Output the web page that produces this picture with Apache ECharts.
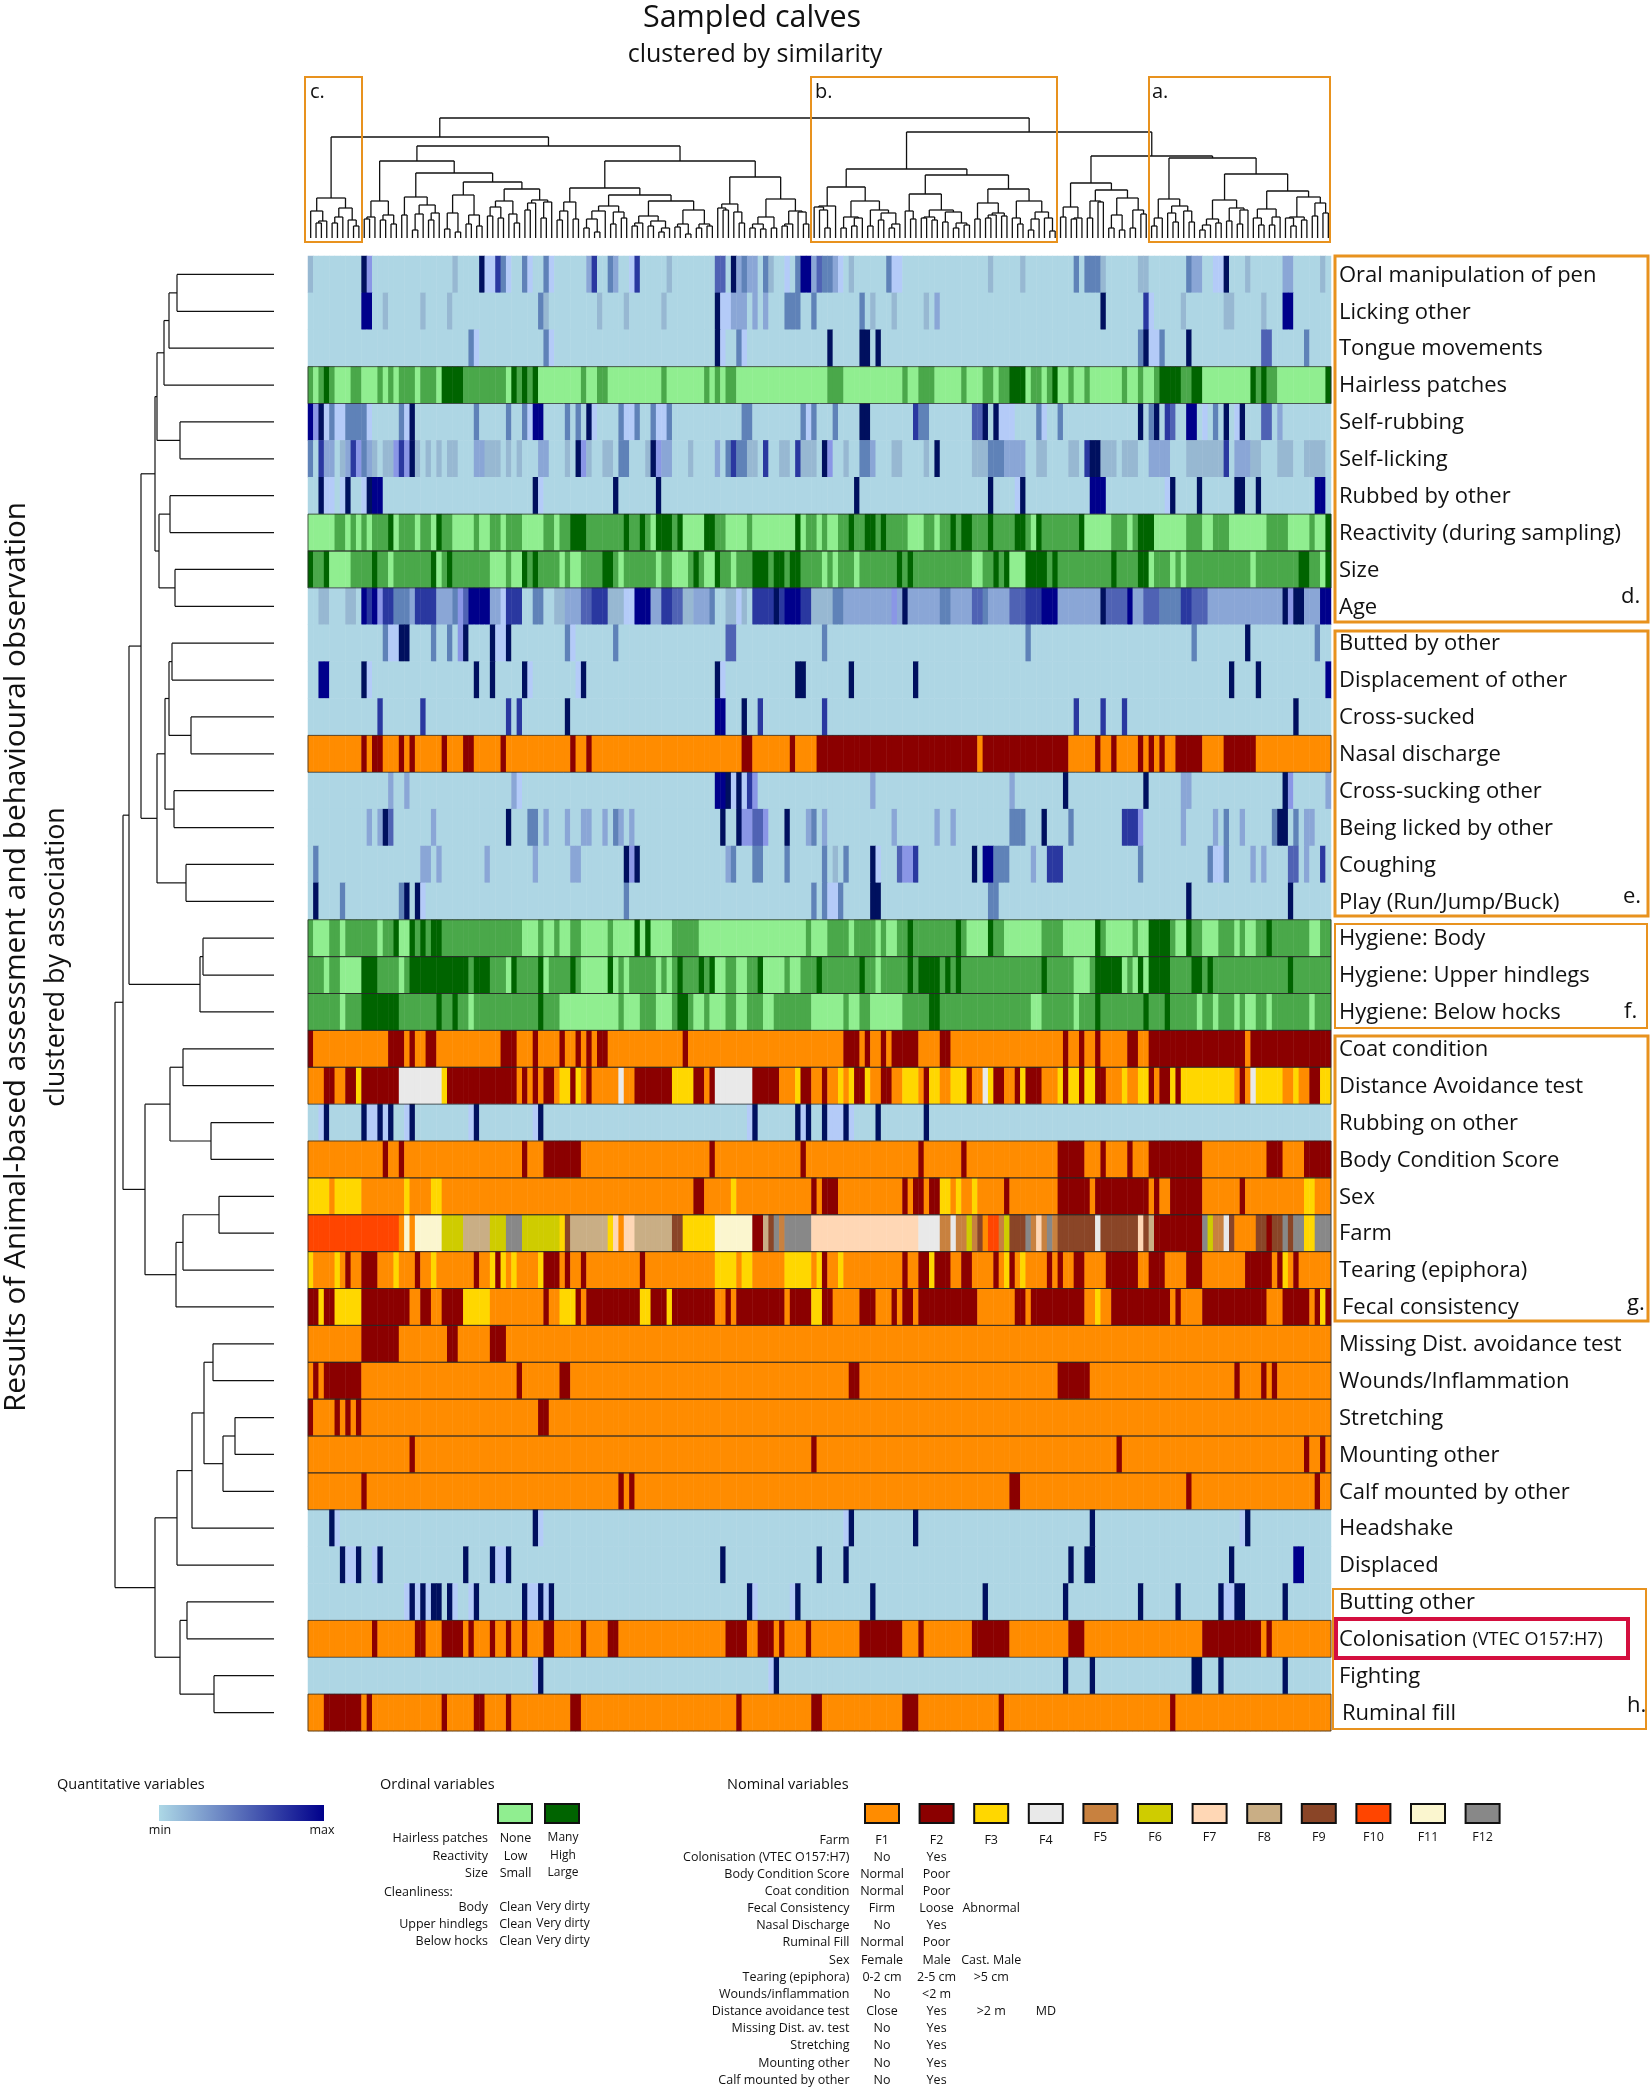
<!DOCTYPE html>
<html><head><meta charset="utf-8">
<style>html,body{margin:0;padding:0;background:#fff}#c{width:1650px;height:2087px}</style>
<script src="https://cdn.jsdelivr.net/npm/echarts@6/dist/echarts.min.js"></script>
</head><body><div id="c"></div>
<script>
const FONT='"Open Sans"';
const columnCount=191;
const rowLabels=["Oral manipulation of pen","Licking other","Tongue movements","Hairless patches","Self-rubbing","Self-licking","Rubbed by other","Reactivity (during sampling)","Size","Age","Butted by other","Displacement of other","Cross-sucked","Nasal discharge","Cross-sucking other","Being licked by other","Coughing","Play (Run/Jump/Buck)","Hygiene: Body","Hygiene: Upper hindlegs","Hygiene: Below hocks","Coat condition","Distance Avoidance test","Rubbing on other","Body Condition Score","Sex","Farm","Tearing (epiphora)","Fecal consistency","Missing Dist. avoidance test","Wounds/Inflammation","Stretching","Mounting other","Calf mounted by other","Headshake","Displaced","Butting other","Colonisation (VTEC O157:H7)","Fighting","Ruminal fill"];
const rowKinds=["Q","Q","Q","O","Q","Q","Q","O","O","Q","Q","Q","Q","N","Q","Q","Q","Q","O","O","O","N","N","Q","N","N","N","N","N","N","N","N","N","N","Q","Q","Q","N","Q","N"];
// base level of each ordinal row (0 light, 1 mid, 2 dark); other rows use their first colour
const ordinalBase={3:0,7:0,8:1,18:0,19:1,20:1};

const quantBase="#aed6e4";
const quantColors=["#b4cbf8","#97b8d2","#8aa6d6","#5f82b8","#4f62b4","#2a38a0","#00105f","#00008b","#8a96e6"];
const ordinalColors=["#90ee90","#4aa84a","#006400"];
const nominalColors=["#ff8c00","#8b0000","#ffd700","#e9e9e9","#c8813f","#cfcc00","#ffd7b5","#c9ae85","#8a4527","#ff4500","#fbf6cf","#888888"];

// each row: [first column, number of columns, level]
const oralManipulation=[[0,1,1],[10,1,6],[11,1,8],[27,1,1],[32,1,6],[33,2,0],[35,1,5],[36,1,3],[37,1,0],[40,1,3],[41,1,0],[44,1,3],[45,1,0],[52,1,2],[53,1,5],[56,1,3],[57,1,2],[60,1,0],[61,1,5],[67,1,1],[76,2,4],[79,1,6],[80,1,2],[81,1,3],[82,2,2],[85,1,3],[86,1,1],[89,1,0],[91,1,3],[92,2,7],[94,1,2],[95,1,4],[96,1,3],[97,1,3],[98,1,2],[99,1,0],[101,1,1],[108,1,3],[109,2,0],[127,1,1],[133,1,1],[143,1,3],[145,3,3],[148,1,1],[155,2,1],[164,1,3],[165,2,2],[169,2,0],[171,1,6],[175,1,1],[182,2,2],[189,1,1]];
const lickingOther=[[10,2,7],[14,1,1],[21,1,1],[26,1,1],[43,1,3],[44,1,1],[54,1,1],[59,1,1],[66,1,1],[76,1,6],[77,2,0],[79,3,2],[83,1,2],[85,1,2],[89,3,3],[94,1,3],[103,1,3],[105,1,1],[109,1,1],[115,1,1],[117,1,2],[148,1,6],[156,1,5],[157,1,0],[163,1,1],[171,2,1],[178,1,1],[182,2,7]];
const tongueMovements=[[30,1,3],[31,1,0],[44,1,3],[45,1,0],[76,1,6],[77,1,0],[80,1,3],[81,1,0],[97,1,6],[103,2,6],[106,1,6],[155,1,3],[156,1,6],[157,2,0],[159,1,3],[164,1,6],[178,2,4],[186,1,3]];
const hairlessPatches=[[0,1,1],[2,1,1],[3,1,2],[4,1,1],[8,2,1],[13,1,1],[15,1,1],[17,3,1],[21,3,1],[25,4,2],[29,8,1],[38,1,2],[39,1,1],[40,1,2],[41,1,1],[42,1,2],[51,1,1],[54,2,1],[66,1,1],[74,1,1],[76,1,1],[78,2,1],[97,2,1],[99,1,1],[111,1,1],[114,3,1],[122,1,1],[126,2,1],[129,2,1],[131,3,2],[135,2,1],[138,1,1],[139,1,2],[142,1,1],[145,1,1],[152,1,1],[155,1,1],[158,1,1],[159,4,2],[163,2,1],[165,2,2],[176,1,2],[177,1,1],[178,1,2],[179,2,1],[190,1,2]];
const selfRubbing=[[0,1,7],[1,1,8],[2,1,6],[3,1,0],[4,1,3],[5,2,0],[7,4,3],[11,1,0],[17,1,3],[18,1,0],[19,1,6],[31,1,3],[37,1,3],[40,1,3],[41,1,0],[42,2,7],[48,1,3],[50,1,3],[52,1,6],[53,1,0],[58,1,3],[59,2,0],[61,1,3],[64,1,3],[65,2,0],[67,1,3],[81,2,3],[92,1,3],[93,1,0],[94,1,3],[98,1,3],[103,2,6],[113,1,5],[114,2,3],[124,2,4],[126,1,6],[128,1,6],[129,3,0],[136,1,3],[137,1,0],[140,1,3],[155,1,6],[157,1,3],[158,1,6],[160,1,5],[161,1,4],[164,2,7],[167,1,0],[169,1,3],[171,1,6],[173,1,0],[174,1,6],[178,2,4],[181,1,2]];
const selfLicking=[[0,1,3],[2,1,5],[3,2,2],[6,1,1],[7,1,2],[8,1,5],[9,1,8],[10,1,3],[11,1,2],[12,1,1],[14,2,1],[16,1,8],[17,1,5],[18,1,8],[19,1,6],[20,1,1],[22,1,1],[24,1,1],[26,2,1],[31,2,2],[33,3,1],[37,1,1],[39,1,1],[43,2,2],[48,1,1],[50,1,6],[51,1,8],[52,1,1],[55,2,1],[58,2,3],[63,1,1],[64,1,6],[65,1,8],[66,2,2],[71,1,1],[76,1,2],[78,1,3],[79,1,5],[80,2,3],[82,2,1],[85,1,5],[88,2,1],[91,1,5],[92,3,1],[96,1,6],[97,1,8],[100,1,1],[103,2,3],[105,1,2],[109,2,1],[115,1,1],[117,1,6],[124,3,1],[127,3,3],[130,4,2],[136,2,1],[142,2,1],[145,1,5],[146,2,6],[148,3,1],[152,3,1],[157,4,2],[164,3,1],[167,4,1],[171,1,5],[173,3,2],[176,2,1],[181,3,1],[186,4,1]];
const rubbedByOther=[[2,1,6],[3,2,0],[6,1,0],[7,1,6],[10,1,0],[11,1,6],[12,2,7],[42,1,6],[43,1,0],[57,1,6],[65,1,6],[102,1,6],[127,1,6],[132,1,0],[133,1,6],[146,3,7],[160,1,0],[161,1,6],[166,1,6],[173,2,6],[177,1,6],[188,2,7]];
const reactivity=[[5,2,1],[8,1,1],[10,1,1],[12,3,1],[15,1,2],[17,3,1],[21,2,1],[24,1,2],[25,2,1],[31,1,1],[34,2,1],[37,3,1],[44,2,1],[47,2,1],[49,3,2],[52,7,1],[59,1,2],[60,2,1],[62,1,2],[63,1,1],[65,3,2],[68,1,1],[69,1,2],[74,2,2],[76,2,1],[82,1,1],[91,1,2],[93,2,1],[96,1,1],[99,2,1],[101,1,2],[102,2,1],[104,2,2],[106,1,1],[107,1,2],[108,4,1],[115,2,1],[118,2,1],[120,1,2],[121,1,1],[122,2,2],[124,3,1],[127,1,2],[128,4,1],[132,2,2],[134,1,1],[136,1,2],[137,7,1],[144,1,2],[150,3,1],[154,1,1],[155,3,2],[164,3,1],[169,3,1],[179,4,1],[187,1,1],[190,1,2]];
const size=[[0,1,2],[3,1,2],[4,4,0],[12,1,2],[15,1,0],[23,1,2],[24,1,0],[26,1,2],[34,3,0],[38,2,0],[40,1,2],[42,1,2],[47,1,0],[49,2,0],[55,2,2],[58,1,0],[65,1,0],[68,3,0],[72,1,2],[74,2,0],[76,1,2],[79,1,0],[83,3,2],[87,2,2],[90,2,2],[96,1,0],[98,1,0],[102,1,0],[110,1,2],[112,1,2],[124,2,0],[128,1,2],[130,1,2],[131,3,0],[134,4,2],[139,1,2],[150,1,2],[155,2,2],[157,1,0],[161,1,0],[163,1,0],[176,1,0],[185,2,2],[189,1,0],[190,1,2]];
const age=[[2,2,1],[7,2,1],[10,1,7],[11,1,5],[12,1,7],[13,1,8],[14,2,5],[16,3,3],[19,1,2],[20,4,5],[24,3,2],[27,1,3],[28,1,8],[29,1,4],[30,4,7],[34,2,2],[36,1,0],[37,2,5],[39,1,5],[42,2,3],[46,2,1],[48,3,2],[51,2,4],[53,3,5],[56,3,1],[59,2,0],[61,3,7],[64,2,2],[66,2,5],[68,2,4],[70,2,1],[72,3,2],[75,1,3],[78,2,1],[80,1,0],[81,1,1],[83,4,5],[87,1,6],[88,1,5],[89,3,7],[92,2,5],[94,2,1],[96,2,1],[98,2,3],[100,9,2],[109,1,8],[110,1,2],[111,1,6],[112,6,2],[118,2,3],[120,4,2],[124,2,4],[126,1,3],[127,4,2],[131,3,4],[134,3,5],[137,3,7],[140,8,2],[148,1,6],[149,4,4],[153,1,7],[154,2,2],[156,3,4],[159,4,3],[163,2,5],[165,3,4],[168,14,2],[182,1,6],[183,1,8],[184,2,6],[186,3,2],[189,2,7]];
const buttedByOther=[[14,1,3],[15,2,0],[17,2,6],[23,1,3],[26,1,3],[28,1,8],[29,1,6],[34,1,6],[35,2,0],[37,1,6],[48,1,3],[49,1,0],[57,1,3],[78,2,4],[96,1,3],[134,1,3],[165,1,3],[175,1,6],[188,1,3]];
const displacementOfOther=[[2,2,7],[10,1,6],[11,1,0],[31,1,6],[34,1,6],[40,1,6],[41,1,0],[50,1,0],[51,1,6],[76,1,6],[77,1,0],[91,2,6],[101,1,6],[113,1,6],[172,1,6],[177,1,6],[190,1,7]];
const crossSucked=[[13,1,5],[21,1,5],[37,1,5],[39,1,5],[48,1,6],[76,2,7],[81,1,6],[84,1,5],[96,1,5],[143,1,5],[148,1,5],[152,1,5],[184,1,6]];
const nasalDischarge=[[10,1,1],[12,2,1],[17,1,1],[19,1,1],[25,1,1],[29,2,1],[36,1,1],[49,1,1],[52,1,1],[81,2,1],[90,1,1],[95,30,1],[126,16,1],[147,1,1],[150,1,1],[155,1,1],[157,1,1],[159,1,1],[162,5,1],[171,6,1]];
const crossSuckingOther=[[15,1,2],[18,1,2],[38,1,2],[39,1,0],[76,2,7],[78,1,6],[79,1,0],[80,1,6],[81,1,0],[82,1,5],[83,1,8],[105,1,2],[131,1,2],[141,1,6],[156,1,6],[163,2,2],[182,1,6],[183,1,8],[190,1,2]];
const beingLicked=[[11,1,2],[13,1,2],[14,1,6],[15,1,4],[23,1,2],[37,1,6],[41,2,3],[44,1,2],[48,1,2],[51,2,2],[55,1,2],[57,1,3],[58,1,2],[60,1,2],[77,1,6],[80,1,6],[81,2,8],[83,2,4],[85,1,8],[89,1,6],[93,1,2],[94,1,3],[96,1,2],[109,1,2],[117,1,2],[120,1,2],[131,3,3],[137,1,6],[142,1,3],[152,1,5],[153,2,5],[155,1,8],[163,1,2],[169,1,2],[171,1,3],[174,1,2],[180,1,3],[181,2,6],[184,1,3],[186,2,2]];
const coughing=[[1,1,3],[21,2,2],[24,1,2],[33,1,2],[42,1,2],[49,2,2],[59,1,6],[60,1,8],[61,1,6],[78,1,2],[79,1,3],[83,2,3],[89,1,3],[96,1,3],[98,1,1],[100,1,3],[105,1,6],[106,1,0],[110,1,4],[111,2,8],[113,1,5],[124,1,6],[126,2,7],[128,3,3],[135,1,2],[138,3,5],[155,1,3],[168,1,3],[169,2,0],[171,1,3],[176,1,2],[178,1,2],[183,2,4],[186,1,2],[189,1,5]];
const play=[[1,1,6],[6,1,3],[17,1,3],[18,1,6],[20,1,6],[21,1,0],[59,1,3],[94,1,3],[96,1,3],[97,2,0],[99,1,3],[105,2,6],[127,2,3],[164,1,6],[183,1,6]];
const hygieneBody=[[0,1,1],[4,2,1],[7,6,1],[14,2,1],[16,1,2],[19,1,2],[20,1,1],[21,1,2],[22,1,1],[23,2,2],[25,15,1],[43,1,1],[46,1,1],[49,2,1],[56,1,1],[61,1,2],[63,1,2],[68,5,1],[93,1,1],[97,4,1],[102,4,1],[107,1,1],[110,2,1],[112,1,2],[113,8,1],[121,1,2],[122,1,1],[127,1,2],[128,2,1],[137,4,1],[147,1,2],[148,1,1],[154,1,1],[157,4,2],[161,1,1],[164,1,2],[165,2,1],[170,3,1],[174,1,1],[177,2,1],[179,1,2],[180,7,1],[189,2,1]];
const hygieneUpper=[[3,1,0],[6,4,0],[10,3,2],[17,1,0],[19,11,2],[31,3,2],[37,1,0],[38,1,2],[43,1,2],[44,1,0],[49,1,2],[51,5,0],[56,1,2],[57,1,0],[59,1,0],[65,1,0],[67,1,0],[69,1,2],[73,1,2],[75,1,2],[76,2,0],[80,2,0],[84,1,2],[85,4,0],[90,2,0],[95,1,2],[103,1,2],[106,1,0],[112,1,2],[114,4,2],[119,1,2],[121,1,2],[137,1,2],[143,3,0],[147,5,2],[152,1,0],[154,1,0],[155,1,2],[156,1,0],[157,4,2],[165,2,2],[168,1,2],[183,1,2]];
const hygieneBelow=[[6,1,0],[10,7,2],[24,1,2],[27,1,2],[30,1,0],[43,1,2],[47,11,0],[59,3,0],[65,3,0],[69,2,2],[72,2,0],[75,3,0],[80,2,0],[85,2,0],[94,6,0],[101,2,0],[105,6,0],[116,2,2],[135,2,0],[143,1,0],[147,1,2],[156,1,2],[160,1,2],[166,1,0],[169,1,0],[173,1,0],[175,2,0],[179,1,0],[187,1,0]];
const coatCondition=[[0,1,1],[15,3,1],[19,1,1],[22,2,1],[36,3,1],[42,1,1],[47,1,1],[50,1,1],[52,1,1],[54,2,1],[70,1,1],[100,3,1],[104,1,1],[107,1,1],[109,5,1],[118,2,1],[141,1,1],[144,1,1],[147,1,1],[153,2,1],[157,18,1],[176,15,1]];
const distanceAvoidance=[[3,2,1],[7,2,1],[9,1,2],[10,7,1],[17,8,3],[25,1,2],[26,13,1],[40,1,1],[42,1,1],[44,2,1],[47,2,2],[49,1,1],[50,1,2],[52,1,1],[58,1,3],[61,7,1],[68,4,2],[72,2,1],[75,1,1],[76,7,3],[83,5,1],[91,1,2],[92,2,1],[96,1,1],[99,1,2],[101,1,2],[102,2,1],[104,1,2],[107,2,1],[111,3,2],[115,1,1],[116,2,2],[120,3,2],[123,1,1],[126,1,3],[127,1,2],[128,2,1],[132,1,1],[133,1,2],[134,3,1],[140,1,2],[141,1,1],[142,2,2],[144,1,1],[145,2,2],[147,2,1],[152,1,2],[155,2,2],[157,1,1],[159,2,1],[161,1,2],[162,1,1],[163,10,2],[174,1,1],[176,1,3],[177,5,2],[184,1,2],[187,2,1],[189,2,2]];
const rubbingOnOther=[[2,1,0],[3,1,6],[10,1,6],[11,2,0],[13,1,6],[14,1,0],[15,1,6],[18,1,0],[19,1,6],[30,1,0],[31,1,6],[42,1,0],[43,1,6],[82,1,0],[83,1,6],[91,1,6],[92,1,0],[93,1,6],[96,1,6],[97,3,0],[100,1,6],[101,1,0],[106,1,6],[115,1,6]];
const bodyCondition=[[14,1,1],[17,1,1],[40,1,1],[44,7,1],[75,1,1],[92,1,1],[114,1,1],[122,1,1],[140,5,1],[148,1,1],[153,1,1],[157,10,1],[179,3,1],[186,5,1]];
const sex=[[0,4,2],[5,5,2],[18,1,2],[23,2,2],[72,2,1],[79,1,2],[94,1,1],[96,3,1],[111,1,1],[113,2,1],[116,2,1],[118,2,2],[121,1,2],[124,1,2],[130,1,1],[140,6,1],[147,10,1],[158,1,1],[161,6,1],[174,1,1],[186,2,2]];
const farm=[[0,17,9],[17,1,0],[18,1,10],[19,1,0],[20,5,10],[25,4,5],[29,5,7],[34,3,5],[37,3,11],[40,7,5],[47,1,2],[48,1,8],[49,7,7],[56,1,2],[57,1,6],[58,1,0],[59,2,6],[61,7,7],[68,2,8],[70,6,2],[76,7,10],[83,2,1],[85,1,7],[86,1,8],[87,1,11],[88,1,4],[89,5,11],[94,20,6],[114,4,3],[118,2,4],[120,1,3],[121,2,4],[123,1,5],[124,1,4],[125,1,8],[126,1,0],[127,2,9],[129,1,4],[130,1,5],[131,3,8],[134,1,11],[135,1,4],[136,1,6],[137,1,4],[138,1,11],[139,1,4],[140,7,8],[147,1,3],[148,7,8],[155,1,6],[156,1,8],[157,1,7],[158,9,1],[167,1,11],[168,1,5],[169,2,4],[171,1,3],[172,1,8],[173,4,0],[177,2,8],[179,1,1],[180,2,8],[182,1,11],[183,1,8],[184,2,11],[186,2,2],[188,3,11]];
const tearing=[[0,1,2],[5,1,2],[7,1,1],[10,3,1],[16,1,2],[20,1,1],[23,1,2],[31,1,1],[34,1,2],[35,1,1],[36,1,2],[38,1,2],[43,1,2],[44,3,1],[48,1,1],[51,1,1],[62,1,1],[76,4,2],[81,2,2],[89,5,2],[95,1,2],[96,1,1],[99,1,2],[111,1,1],[114,2,1],[116,1,2],[117,3,1],[122,2,1],[128,1,1],[130,1,2],[131,1,1],[133,1,2],[138,1,1],[140,1,1],[143,2,1],[149,6,1],[157,3,1],[164,3,1],[175,5,1],[181,1,1],[182,1,2],[184,1,1]];
const fecalConsistency=[[0,2,1],[2,1,2],[3,2,1],[5,5,2],[10,9,1],[21,2,1],[25,4,1],[29,5,2],[44,1,1],[47,3,2],[50,1,1],[52,10,1],[62,2,2],[64,3,1],[67,1,2],[68,8,1],[78,1,1],[80,9,1],[90,4,1],[94,2,2],[96,2,1],[103,3,1],[109,1,1],[111,2,1],[114,11,1],[132,2,1],[135,10,1],[147,1,2],[150,11,1],[162,1,1],[167,12,1],[182,5,1],[188,1,1],[189,1,2],[190,1,1]];
const missingDistance=[[10,7,1],[26,2,1],[34,3,1]];
const wounds=[[1,1,1],[3,7,1],[39,1,1],[47,2,1],[101,2,1],[140,6,1],[173,1,1],[178,1,1],[180,1,1]];
const stretching=[[0,1,1],[5,1,1],[7,1,1],[9,1,1],[43,2,1]];
const mountingOther=[[19,1,1],[94,1,1],[151,1,1],[186,1,1],[189,1,1]];
const calfMounted=[[10,1,1],[58,1,1],[60,1,1],[131,2,1],[164,1,1],[188,1,1]];
const headshake=[[4,1,6],[5,1,0],[42,1,6],[43,1,0],[100,1,0],[101,1,6],[113,1,6],[146,1,6],[174,1,0],[175,1,6]];
const displaced=[[6,1,6],[7,2,0],[9,1,6],[12,1,0],[13,1,6],[29,1,6],[34,1,6],[35,2,0],[37,1,6],[77,1,6],[95,1,6],[100,1,6],[142,1,6],[145,2,6],[172,1,6],[184,2,7]];
const buttingOther=[[18,1,0],[19,1,6],[20,1,0],[21,1,6],[22,1,0],[23,2,6],[26,1,6],[27,1,0],[30,1,0],[31,1,6],[40,1,6],[41,2,0],[43,1,6],[44,1,0],[45,1,6],[82,1,6],[83,1,0],[90,1,0],[91,1,6],[105,1,6],[126,1,6],[141,1,6],[155,1,6],[162,1,6],[170,1,6],[171,2,0],[173,2,6],[182,1,6]];
const colonisation=[[12,1,1],[20,2,1],[25,4,1],[30,1,1],[34,1,1],[37,1,1],[40,1,1],[44,2,1],[51,1,1],[56,2,1],[78,4,1],[84,3,1],[88,1,1],[93,1,1],[103,8,1],[114,1,1],[124,7,1],[142,3,1],[167,11,1],[179,1,1]];
const fighting=[[42,1,0],[43,1,6],[86,1,0],[87,1,6],[141,1,6],[146,1,6],[165,2,6],[170,1,6],[182,1,6]];
const ruminalFill=[[3,7,1],[11,1,1],[25,1,1],[31,2,1],[37,1,1],[49,2,1],[80,1,1],[94,2,1],[111,3,1],[129,1,1],[161,1,1]];
const rowRuns=[oralManipulation,lickingOther,tongueMovements,hairlessPatches,selfRubbing,selfLicking,rubbedByOther,reactivity,size,age,buttedByOther,displacementOfOther,crossSucked,nasalDischarge,crossSuckingOther,beingLicked,coughing,play,hygieneBody,hygieneUpper,hygieneBelow,coatCondition,distanceAvoidance,rubbingOnOther,bodyCondition,sex,farm,tearing,fecalConsistency,missingDistance,wounds,stretching,mountingOther,calfMounted,headshake,displaced,buttingOther,colonisation,fighting,ruminalFill];

// calves dendrogram: [height, left, right], 0 = leaf
const clusterC=[40,[27,0,[17,[15,0,0],0]],[30,[21,[15,0,0],0],[18,0,[12,0,0]]]];
const cluster129=[37,[21,[19,0,0],0],[23,[18,0,0],[14,0,0]]];
const cluster181=[41,[23,0,0],[33,[24,[8,0,0],0],[25,[18,0,0],0]]];
const cluster255=[43,[25,[9,0,0],[6,0,0]],[23,[14,0,0],[12,0,0]]];
const cluster318=[37,[31,[22,0,0],[20,0,0]],[24,0,[15,0,0]]];
const cluster366=[38,[35,[28,0,0],0],[36,[20,0,0],0]];
const cluster415=[36,[27,[18,0,0],0],[19,0,0]];
const cluster465=[32,[27,[19,[10,0,0],[6,0,0]],0],[26,[14,0,0],[20,0,0]]];
const cluster565=[37,[22,[15,[12,0,0],0],[17,[12,0,0],[10,[6,0,0],0]]],[28,[14,[11,0,0],[4,0,0]],[14,[10,0,0],[12,0,0]]]];
const cluster648=[34,[30,0,[28,0,0]],[26,0,[15,0,0]]];
const cluster726=[39,[21,[14,[10,0,0],[9,0,0]],[10,0,0]],[27,[14,[12,0,0],0],[26,0,[14,0,0]]]];
const cluster789=[32,[31,0,[28,0,[10,0,0]]],0];
const cluster840=[37,[21,[10,0,0],[20,[12,0,0],0]],[28,[12,0,0],[25,[18,0,0],[14,[10,0,0],0]]]];
const cluster937=[44,[27,0,[19,0,0]],[28,[21,[20,0,0],[18,0,0]],[26,[16,0,0],[15,[10,0,0],[13,0,0]]]]];
const cluster1060=[49,[35,[19,0,0],[25,[23,[20,0,0],0],[22,0,0]]],[37,[20,0,[14,0,0]],[26,[19,[8,0,0],0],[20,0,[7,0,0]]]]];
const cluster1152=[31,[21,0,0],[20,[19,0,0],0]];
const cluster1218=[48,[37,[20,0,0],[36,0,0]],[40,[23,[10,0,0],[8,0,0]],[28,[10,0,0],[24,0,0]]]];
const cluster1300=[39,[20,[12,0,0],0],[32,[25,0,[16,0,0]],[27,0,[16,0,0]]]];
const cluster1393=[38,[19,[13,[8,0,0],0],[15,0,0]],[30,[17,0,0],[28,[14,0,0],0]]];
const cluster1470=[47,[29,[20,0,[13,0,0]],[21,[13,0,0],0]],[41,[21,[20,0,[12,0,0]],[18,0,0]],[35,[22,0,0],[25,0,0]]]];
const calfTree=[120,
 [101,clusterC,[92,[77,cluster129,[65,cluster181,[56,cluster255,[49,cluster318,cluster366]]]],[77,[50,cluster415,[43,cluster465,cluster565]],[61,cluster648,cluster726]]]],
 [106,[69,[51,cluster789,cluster840],[63,cluster937,cluster1060]],[82,[55,cluster1152,cluster1218],[80,cluster1300,[64,cluster1393,cluster1470]]]]];
const variableTree=[159,
 [151,
  [145,
   [133,
    [119,[117,[110,[105,[97,0,0],0],0],[94,0,0]],[115,[104,0,0],[99,0,0]]],
    [117,[109,[105,[102,0,0],[83,0,0]],[100,0,0]],[88,0,0]]],
   [74,[71,0,0],0]],
  [129,[104,[91,0,0],[63,0,0]],[98,[91,[55,0,0],0],0]]],
 [119,[97,[82,[70,[61,0,0],[51,[39,0,0],0]],0],0],[94,[87,0,0],[60,0,0]]]];

// legends
const ordinalLegend=[["Hairless patches","None","Many"],["Reactivity","Low","High"],["Size","Small","Large"],["Body","Clean","Very dirty"],["Upper hindlegs","Clean","Very dirty"],["Below hocks","Clean","Very dirty"]];
const nominalLegend=[["Farm","F1","F2","F3","F4","F5","F6","F7","F8","F9","F10","F11","F12"],["Colonisation (VTEC O157:H7)","No","Yes"],["Body Condition Score","Normal","Poor"],["Coat condition","Normal","Poor"],["Fecal Consistency","Firm","Loose","Abnormal"],["Nasal Discharge","No","Yes"],["Ruminal Fill","Normal","Poor"],["Sex","Female","Male","Cast. Male"],["Tearing (epiphora)","0-2 cm","2-5 cm",">5 cm"],["Wounds/inflammation","No","<2 m"],["Distance avoidance test","Close","Yes",">2 m","MD"],["Missing Dist. av. test","No","Yes"],["Stretching","No","Yes"],["Mounting other","No","Yes"],["Calf mounted by other","No","Yes"]];

// ---------- build ----------
const allColors=[quantBase].concat(quantColors,ordinalColors,nominalColors);
const Q0=1,O0=1+quantColors.length,N0=O0+ordinalColors.length;
const cells=[];
rowRuns.forEach((runs,r)=>{
  const kind=rowKinds[r];
  const off=kind==="Q"?Q0:kind==="O"?O0:N0;
  const base=kind==="Q"?0:kind==="O"?O0+(ordinalBase[r]||0):N0;
  const line=new Array(columnCount).fill(base);
  runs.forEach(([s,l,c])=>{for(let i=s;i<s+l&&i<columnCount;i++)line[i]=off+c;});
  line.forEach((v,c)=>cells.push([c,r,v]));
});
function flatten(tree){
  const segs=[];let leaf=0;
  (function walk(n){
    if(!Array.isArray(n)){return {p:(leaf++)+0.5,h:0};}
    const a=walk(n[1]),b=walk(n[2]),h=n[0];
    segs.push([a.p,a.h,a.p,h],[b.p,b.h,b.p,h],[a.p,h,b.p,h]);
    return {p:(a.p+b.p)/2,h};
  })(tree);
  return segs;
}
const calfSegs=flatten(calfTree);
const varSegs=flatten(variableTree).map(s=>[s[1],s[0],s[3],s[2]]);
const lineItem=(w)=>function(p,api){
  const a=api.coord([api.value(0),api.value(1)]),b=api.coord([api.value(2),api.value(3)]);
  return {type:'line',shape:{x1:a[0],y1:a[1],x2:b[0],y2:b[1]},style:{stroke:'#111',lineWidth:w}};
};
const txt=(text,x,y,size,align,rot)=>({type:'text',x,y,rotation:rot||0,silent:true,z:20,style:{text,x:0,y:0,fontFamily:FONT,fontSize:size,fill:'#111',align:align||'left',verticalAlign:'middle'}});
const box=(x1,y1,x2,y2,c,w)=>({type:'rect',z:15,silent:true,shape:{x:x1,y:y1,width:x2-x1,height:y2-y1},style:{fill:'none',stroke:c,lineWidth:w}});
const ORANGE='#e8921e';
const g=[];
g.push(txt('Sampled calves',752,18,30.5,'center'),txt('clustered by similarity',755,55,25,'center'));
g.push(txt('Results of Animal-based assessment and behavioural observation',17,957,29.8,'center',Math.PI/2));
g.push(txt('clustered by association',56,957,26.8,'center',Math.PI/2));
g.push(box(305,77,362,242,ORANGE,2),box(811,77,1057,242,ORANGE,2),box(1149,77,1330,242,ORANGE,2));
g.push(txt('c.',310,92,20),txt('b.',815,92,20),txt('a.',1152,92,20));
g.push(box(1335,256,1648,622,ORANGE,3),box(1335,631,1648,916,ORANGE,3),box(1335,924,1647,1028,ORANGE,2),box(1335,1036,1648,1321,ORANGE,3),box(1333,1589,1646,1729,ORANGE,2),box(1336,1619,1628,1658,'#d40f3f',4));
[['d.',1621,597],['e.',1623,897],['f.',1624,1012],['g.',1627,1304],['h.',1627,1706]].forEach(a=>g.push(txt(a[0],a[1],a[2],22)));
// legends
const LS=12.5;
g.push(txt('Quantitative variables',57,1785,14.5));
g.push({type:'rect',z:15,silent:true,shape:{x:159,y:1805,width:165,height:16},style:{fill:new echarts.graphic.LinearGradient(0,0,1,0,[{offset:0,color:'#add8e6'},{offset:1,color:'#00008b'}])}});
g.push(txt('min',160,1830,LS,'center'),txt('max',322,1830,LS,'center'));
g.push(txt('Ordinal variables',380,1785,14.5));
[[498,ordinalColors[0]],[545,ordinalColors[2]]].forEach(a=>g.push({type:'rect',z:15,silent:true,shape:{x:a[0],y:1804,width:34,height:19},style:{fill:a[1],stroke:'#111',lineWidth:2}}));
const ordY=[1838,1856,1873,1907,1924,1941];
ordinalLegend.forEach((row,i)=>{g.push(txt(row[0],488,ordY[i],LS,'right'),txt(row[1],515.5,ordY[i],LS,'center'),txt(row[2],563,ordY[i],12,'center'));});
g.push(txt('Cleanliness:',384,1892,LS));
g.push(txt('Nominal variables',727,1785,14.5));
nominalColors.forEach((c,i)=>g.push({type:'rect',z:15,silent:true,shape:{x:865+i*54.6,y:1804,width:34,height:19},style:{fill:c,stroke:'#111',lineWidth:2}}));
nominalLegend.forEach((row,i)=>{
  const y=1840+i*17.15;
  g.push(txt(row[0],849.5,y,LS,'right'));
  row.slice(1).forEach((v,j)=>g.push(txt(v,882+j*54.6,(i===0&&j>=4)?y-3:y,LS,'center')));
});

const chart=echarts.init(document.getElementById('c'),null,{renderer:'canvas',width:1650,height:2087});
chart.setOption({
  animation:false,backgroundColor:'#fff',
  grid:[{left:308,top:256,width:1023,height:1475},{left:308,top:118,width:1023,height:120},{left:115,top:256,width:159,height:1475}],
  xAxis:[
    {gridIndex:0,type:'category',show:false,data:Array.from({length:columnCount},(_,i)=>i)},
    {gridIndex:1,type:'value',show:false,min:0,max:columnCount},
    {gridIndex:2,type:'value',show:false,min:0,max:159,inverse:true}],
  yAxis:[
    {gridIndex:0,type:'category',inverse:true,position:'right',data:rowLabels,axisLine:{show:false},axisTick:{show:false},
     axisLabel:{interval:0,margin:8,fontFamily:FONT,fontSize:22,color:'#111',padding:[2,0,0,0],
       formatter:v=>v.startsWith('Colonisation')?'{a|Colonisation} {b|(VTEC O157:H7)}':(v==='Fecal consistency'||v==='Ruminal fill')?'{p|'+v+'}':v,
       rich:{a:{fontFamily:FONT,fontSize:22,color:'#111'},b:{fontFamily:FONT,fontSize:18,color:'#111'},p:{fontFamily:FONT,fontSize:22,color:'#111',padding:[0,0,0,3]}}}},
    {gridIndex:1,type:'value',show:false,min:0,max:120},
    {gridIndex:2,type:'value',show:false,min:0,max:rowLabels.length,inverse:true}],
  visualMap:{type:'piecewise',show:false,seriesIndex:0,dimension:2,pieces:allColors.map((c,i)=>({value:i,color:c}))},
  series:[
    {type:'heatmap',xAxisIndex:0,yAxisIndex:0,data:cells,progressive:0,itemStyle:{borderWidth:0},emphasis:{disabled:true}},
    {type:'custom',xAxisIndex:0,yAxisIndex:0,z:5,silent:true,clip:false,
     data:rowKinds.map((k,i)=>k==='Q'?null:i).filter(v=>v!==null).map(v=>[0,v]),
     encode:{x:0,y:1},
     renderItem:(p,api)=>{
       const c=api.coord([0,api.value(1)]),s=api.size([1,1]);
       const L=c[0]-s[0]/2;
       return {type:'rect',shape:{x:L,y:c[1]-s[1]/2,width:s[0]*columnCount,height:s[1]},style:{fill:'none',stroke:'rgba(40,40,40,0.75)',lineWidth:1}};
     }},
    {type:'custom',xAxisIndex:1,yAxisIndex:1,silent:true,clip:false,data:calfSegs,encode:{x:[0,2],y:[1,3]},renderItem:lineItem(1.3)},
    {type:'custom',xAxisIndex:2,yAxisIndex:2,silent:true,clip:false,data:varSegs,encode:{x:[0,2],y:[1,3]},renderItem:lineItem(1.2)}
  ],
  graphic:g
});
</script></body></html>
